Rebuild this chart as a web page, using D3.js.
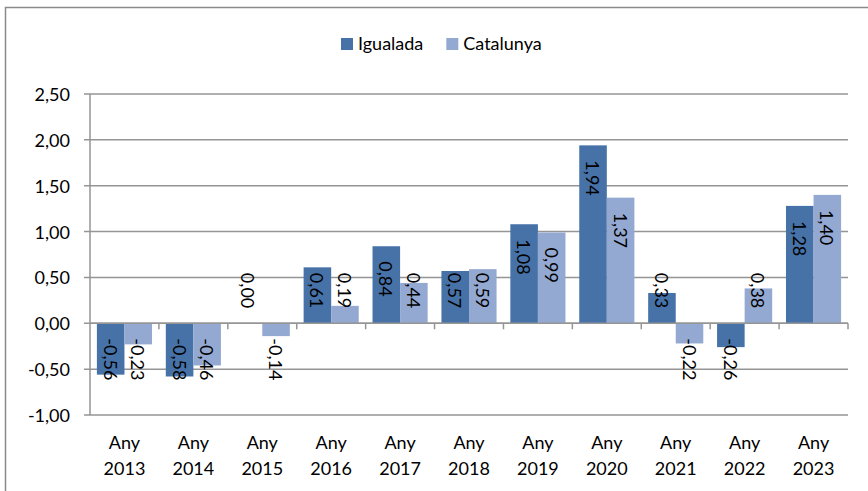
<!DOCTYPE html>
<html>
<head>
<meta charset="utf-8">
<script src="https://cdn.jsdelivr.net/npm/d3@7"></script>
<style>
  html, body { margin: 0; padding: 0; background: #fff; overflow: hidden; }
  svg { display: block; font-family: Lato, "Open Sans", sans-serif; }
</style>
</head>
<body>
<svg id="chart" width="868" height="491"></svg>
<script>
const title = "Variació de la població d'Igualada i de Catalunya (%)";
const years = ["2013","2014","2015","2016","2017","2018","2019","2020","2021","2022","2023"];
const categories = years.map(y => "Any " + y);
const seriesNames = ["Igualada", "Catalunya"];
const igualada  = [-0.56, -0.58, 0.00, 0.61, 0.84, 0.57, 1.08, 1.94, 0.33, -0.26, 1.28];
const catalunya = [-0.23, -0.46, -0.14, 0.19, 0.44, 0.59, 0.99, 1.37, -0.22, 0.38, 1.40];
const yTicks = [-1.0, -0.5, 0.0, 0.5, 1.0, 1.5, 2.0, 2.5];
const colors = ["#4672A8", "#94A9D1"];

const svg = d3.select("#chart");
const plot = { left: 90, right: 848, top: 94, bottom: 415 };
const fmt = v => d3.format(".2f")(v).replace(".", ",").replace("−", "-");
const grid = "#959595";

// chart frame (extends beyond the viewport)
svg.append("rect").attr("x", 5.5).attr("y", 7.5).attr("width", 1000).attr("height", 1000)
  .attr("fill", "#fff").attr("stroke", "#8a8a8a").attr("stroke-width", 1.5);

// title (mostly above the visible area, as in the reference)
const tt = svg.append("text").attr("y", -3).attr("font-weight", "bold").attr("font-size", 19)
  .attr("fill", "#000").text(title);
const pre = title.indexOf("població");
const off = tt.node().getSubStringLength(0, pre);
tt.attr("x", 425 - off);

const x = d3.scaleBand().domain(categories).range([plot.left, plot.right]).paddingInner(0).paddingOuter(0);
const x1 = d3.scaleBand().domain(seriesNames).range([0, x.bandwidth()]).paddingInner(0).paddingOuter(0.25);
const y = d3.scaleLinear().domain([-1, 2.5]).range([plot.bottom, plot.top]);

// gridlines
svg.append("g").selectAll("line").data(yTicks).join("line")
  .attr("x1", plot.left - 6).attr("x2", plot.right)
  .attr("y1", d => y(d)).attr("y2", d => y(d))
  .attr("stroke", grid).attr("stroke-width", 1.5);

// y axis line
svg.append("line").attr("x1", plot.left).attr("x2", plot.left)
  .attr("y1", y(2.5)).attr("y2", y(-1)).attr("stroke", grid).attr("stroke-width", 1.5);

// y tick labels
svg.append("g").selectAll("text").data(yTicks).join("text")
  .attr("x", 70).attr("y", d => y(d)).attr("text-anchor", "end")
  .attr("dominant-baseline", "central").attr("font-size", 18).attr("fill", "#000")
  .text(d => fmt(d));

// bars
const data = seriesNames.map((s, i) => ({ name: s, color: colors[i], values: i === 0 ? igualada : catalunya }));
const groups = svg.append("g").selectAll("g").data(data).join("g").attr("fill", d => d.color);
groups.selectAll("rect").data(d => d.values.map((v, j) => ({ s: d.name, v, c: categories[j] }))).join("rect")
  .attr("x", d => x(d.c) + x1(d.s))
  .attr("width", x1.bandwidth())
  .attr("y", d => y(Math.max(0, d.v)))
  .attr("height", d => Math.abs(y(d.v) - y(0)));

// x axis line at zero + ticks
svg.append("line").attr("x1", plot.left).attr("x2", plot.right)
  .attr("y1", y(0)).attr("y2", y(0)).attr("stroke", grid).attr("stroke-width", 1.5);
const bounds = categories.map(c => x(c)).concat([plot.right]);
svg.append("g").selectAll("line").data(bounds.slice(1)).join("line")
  .attr("x1", d => d).attr("x2", d => d)
  .attr("y1", y(0)).attr("y2", y(0) + 6).attr("stroke", grid).attr("stroke-width", 1.5);

// x labels
const xl = svg.append("g").selectAll("text").data(categories).join("text")
  .attr("text-anchor", "middle").attr("font-size", 18).attr("fill", "#000");
xl.append("tspan").attr("x", c => x(c) + x.bandwidth() / 2).attr("y", 449).text(c => c.split(" ")[0]);
xl.append("tspan").attr("x", c => x(c) + x.bandwidth() / 2).attr("y", 475).text(c => c.split(" ")[1]);

// data labels (rotated 90°)
const pad = 15;
const labelData = [];
data.forEach(s => s.values.forEach((v, j) => labelData.push({ s: s.name, v, c: categories[j] })));
const lbl = svg.append("g").selectAll("text").data(labelData).join("text")
  .attr("font-size", 18).attr("fill", "#000").attr("dominant-baseline", "central")
  .text(d => fmt(d.v));
lbl.each(function(d) {
  const len = this.getComputedTextLength();
  const cx = x(d.c) + x1(d.s) + x1.bandwidth() / 2;
  const z = y(0);
  let start;
  if (d.v >= 0) {
    start = Math.min(y(d.v) + pad, z - pad - len);
  } else {
    start = Math.max(z + pad, y(d.v) - pad - len);
  }
  d3.select(this).attr("transform", `translate(${cx},${start}) rotate(90)`);
});

// legend
const leg = svg.append("g");
let lx = 341;
data.forEach(s => {
  leg.append("rect").attr("x", lx).attr("y", 38).attr("width", 12).attr("height", 12).attr("fill", s.color);
  const t = leg.append("text").attr("x", lx + 17).attr("y", 50).attr("font-size", 18).attr("fill", "#000").text(s.name);
  lx += 17 + t.node().getComputedTextLength() + 23;
});
</script>
</body>
</html>
